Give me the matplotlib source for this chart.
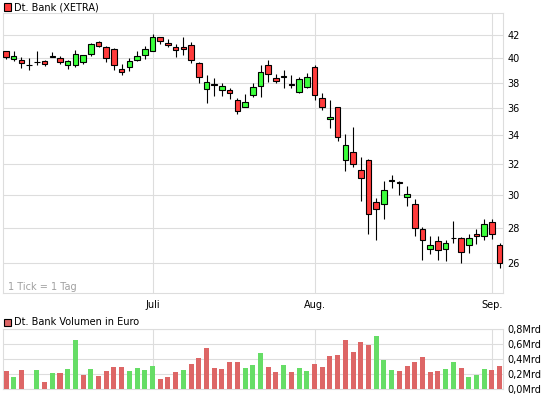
import numpy as np
import matplotlib
matplotlib.use("Agg")
import matplotlib.pyplot as plt
from matplotlib.patches import Rectangle
from matplotlib.ticker import NullLocator, FixedLocator

# daily candles, Dt. Bank (XETRA), June - Sep 2 2011
opens = [40.62, 39.93, 39.83, 39.40, 39.66, 39.73, 40.13, 40.00, 39.45, 39.40,
         39.65, 40.34, 41.37, 40.94, 40.78, 39.09, 39.30, 39.87, 40.28, 40.65,
         41.80, 41.28, 40.94, 40.94, 41.14, 39.58, 37.48, 37.86, 37.37, 37.42,
         36.65, 36.12, 36.98, 37.76, 39.44, 38.35, 38.46, 37.86, 37.25, 37.62,
         39.30, 36.78, 35.19, 36.07, 32.30, 32.83, 31.63, 32.30, 29.55, 29.43,
         30.91, 30.82, 29.86, 29.45, 27.93, 26.80, 27.25, 26.80, 27.41, 27.41,
         27.00, 27.64, 27.49, 28.34, 27.02]
highs = [40.62, 40.62, 40.10, 39.98, 40.62, 39.85, 40.53, 40.19, 39.88, 40.71,
         40.30, 41.31, 41.48, 41.07, 40.85, 39.54, 40.02, 40.62, 41.08, 42.09,
         41.85, 41.61, 41.21, 41.80, 41.37, 39.66, 38.62, 38.35, 37.99, 37.56,
         36.78, 37.11, 37.99, 39.44, 39.85, 38.69, 38.99, 38.62, 38.48, 38.77,
         39.44, 37.21, 36.60, 36.10, 34.11, 34.60, 32.51, 32.37, 29.79, 30.91,
         31.30, 30.91, 30.54, 29.74, 28.05, 27.53, 27.53, 27.31, 28.37, 27.44,
         27.66, 27.93, 28.52, 28.52, 27.10]
lows = [39.90, 39.77, 39.16, 38.98, 39.39, 39.32, 40.10, 39.55, 39.08, 39.30,
        39.48, 40.22, 40.97, 39.72, 39.04, 38.57, 38.95, 39.80, 39.93, 40.60,
        41.20, 40.92, 40.13, 40.27, 39.62, 37.94, 36.39, 36.96, 36.96, 36.72,
        35.58, 36.08, 36.90, 36.90, 38.07, 37.97, 37.56, 37.56, 37.17, 37.54,
        36.60, 35.87, 34.53, 33.57, 31.58, 31.84, 29.59, 27.63, 27.27, 28.50,
        30.47, 30.00, 29.29, 27.49, 26.17, 26.50, 26.17, 26.13, 27.12, 25.98,
        26.53, 27.08, 27.27, 27.36, 25.75]
closes = [40.08, 40.19, 39.58, 39.40, 39.66, 39.50, 40.17, 39.65, 39.73, 40.34,
          40.25, 41.21, 41.03, 39.99, 39.45, 38.89, 39.77, 40.17, 40.79, 41.80,
          41.44, 41.09, 40.66, 40.75, 39.86, 38.43, 38.07, 37.82, 37.70, 37.17,
          35.82, 36.47, 37.63, 38.84, 38.68, 38.16, 38.50, 37.82, 38.27, 38.48,
          36.99, 36.08, 35.34, 33.88, 33.29, 32.00, 31.09, 28.82, 29.13, 30.33,
          30.95, 30.78, 30.07, 27.97, 27.27, 26.98, 26.70, 27.09, 27.41, 26.63,
          27.39, 27.51, 28.21, 27.63, 25.98]
# turnover in Mrd Euro
volumes = [0.244, 0.160, 0.258, 0.0, 0.258, 0.098, 0.218, 0.218, 0.271, 0.658,
           0.191, 0.271, 0.178, 0.244, 0.298, 0.298, 0.244, 0.284, 0.258, 0.311,
           0.138, 0.164, 0.231, 0.258, 0.338, 0.418, 0.551, 0.284, 0.271, 0.364,
           0.364, 0.284, 0.324, 0.484, 0.298, 0.231, 0.324, 0.231, 0.280, 0.244,
           0.338, 0.298, 0.444, 0.458, 0.658, 0.498, 0.631, 0.591, 0.711, 0.391,
           0.258, 0.244, 0.311, 0.364, 0.431, 0.231, 0.244, 0.271, 0.364, 0.284,
           0.164, 0.191, 0.271, 0.258, 0.311]

month_idx = [19, 40, 63]
month_labels = ["Juli", "Aug.", "Sep."]
price_ticks = [26, 28, 30, 32, 34, 36, 38, 40, 42]
vol_ticks = [0.0, 0.2, 0.4, 0.6, 0.8]
vol_labels = ["0,0Mrd", "0,2Mrd", "0,4Mrd", "0,6Mrd", "0,8Mrd"]

RED = "#ff3b3b"
GREEN = "#3bff3b"
VRED = "#dd6666"
VGREEN = "#66dd66"
GRID = "#dddddd"

W, H = 545, 398


def fx(px):
  return px / W


def fy(py):
  return 1 - py / H


def style_axes(ax):
  for s in ax.spines.values():
    s.set_color(GRID)
    s.set_linewidth(0.8)
  ax.set_axisbelow(True)
  ax.grid(True, color=GRID, linewidth=0.8)
  ax.yaxis.tick_right()
  ax.tick_params(length=0, labelsize=7, pad=3)
  ax.set_xticks(month_idx)
  ax.set_xlim(-0.39, 64.48)


fig = plt.figure(figsize=(W / 100, H / 100), dpi=100)

o = np.array(opens)
c = np.array(closes)
x = np.arange(len(o))

ax = fig.add_axes([fx(3), fy(293.3), fx(500.3), 280 / H])
ax.set_yscale("log")
ax.set_ylim(24.39, 43.96)
style_axes(ax)
ax.yaxis.set_major_locator(FixedLocator(price_ticks))
ax.yaxis.set_minor_locator(NullLocator())
ax.set_yticklabels([str(t) for t in price_ticks])
ax.set_xticklabels(month_labels)
ax.tick_params(axis="x", pad=5)

ax.vlines(x, lows, highs, color="black", linewidth=0.8, zorder=2)
body_col = [GREEN if cc >= oo else RED for oo, cc in zip(o, c)]
ax.bar(x, np.abs(c - o), bottom=np.minimum(o, c), width=0.72,
       color=body_col, edgecolor="black", linewidth=0.8, zorder=3)
ax.text(0.01, 0.013, "1 Tick = 1 Tag", transform=ax.transAxes,
        fontsize=7, color="#a0a0a0", va="baseline")

# volume, coloured against previous close
prev = np.concatenate([[o[0]], c[:-1]])
vol_col = [VGREEN if cc >= pp else VRED for pp, cc in zip(prev, c)]
ax2 = fig.add_axes([fx(3), fy(389), fx(500.3), 59.7 / H])
style_axes(ax2)
ax2.set_ylim(0, 0.8)
ax2.set_yticks(vol_ticks)
ax2.set_yticklabels(vol_labels)
ax2.tick_params(axis="x", labelbottom=False)
ax2.bar(x, volumes, width=0.65, color=vol_col, zorder=3)

# legend boxes
fig.add_artist(Rectangle((fx(3.5), fy(10.5)), fx(7), 7 / H, transform=fig.transFigure,
                         facecolor=RED, edgecolor="black", linewidth=0.8))
fig.text(fx(14), fy(7), "Dt. Bank (XETRA)", fontsize=7, va="center")
fig.add_artist(Rectangle((fx(3.5), fy(325.5)), fx(7), 7 / H, transform=fig.transFigure,
                         facecolor=VRED, edgecolor="black", linewidth=0.8))
fig.text(fx(14), fy(322), "Dt. Bank Volumen in Euro", fontsize=7, va="center")

fig.savefig("out.png", dpi=100)
